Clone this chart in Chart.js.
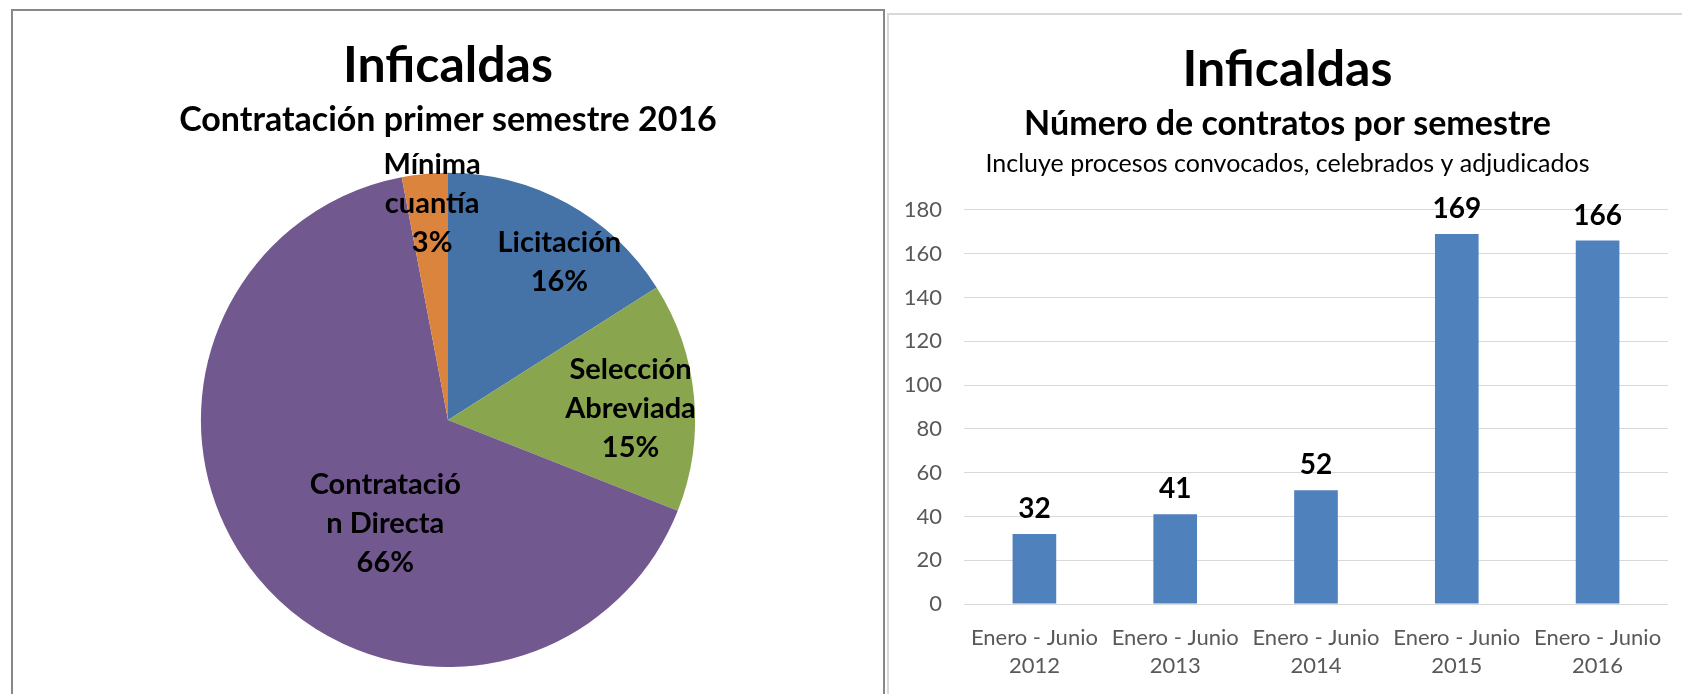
<!DOCTYPE html>
<html lang="es">
<head>
<meta charset="utf-8">
<title>Inficaldas</title>
<script src="https://cdn.jsdelivr.net/npm/chart.js@4.4.1/dist/chart.umd.min.js"></script>
<style>
  html, body { margin: 0; padding: 0; background: #fff; overflow: hidden; }
  body { width: 1682px; height: 694px; position: relative; font-family: Lato, sans-serif; }
  .panel { position: absolute; box-sizing: border-box; }
  #panel-pie { left: 11px; top: 9px; width: 874px; height: 700px; border: 2px solid #888; border-bottom: none; }
  #panel-bar { left: 887px; top: 13px; width: 820px; height: 700px; border: 2px solid #d9d9d9; border-bottom: none; border-right: none; }
  canvas { position: absolute; left: 0; top: 0; }
</style>
</head>
<body>
<div class="panel" id="panel-pie"><canvas id="pie" width="870" height="683"></canvas></div>
<div class="panel" id="panel-bar"><canvas id="barras" width="793" height="685"></canvas></div>
<script>
// --- datos torta: contratación primer semestre 2016 (%)
const tiposContrato = ['Licitación', 'Selección Abreviada', 'Contratación Directa', 'Mínima cuantía'];
const porcentajes = [16, 15, 66, 3];
// el texto de la etiqueta sale partido asi en la imagen
const nombresPie = [['Licitación'], ['Selección', 'Abreviada'], ['Contratació', 'n Directa'], ['Mínima', 'cuantía']];
const coloresPie = ['#4572A7', '#89A54E', '#71588F', '#DB843D'];

// --- datos barras: número de contratos por semestre
const periodos = [['Enero - Junio', '2012'], ['Enero - Junio', '2013'], ['Enero - Junio', '2014'], ['Enero - Junio', '2015'], ['Enero - Junio', '2016']];
const contratos = [32, 41, 52, 169, 166];
const ejeMax = 180;
const ejePaso = 20;

// ubicación de las etiquetas dentro de la torta (fracción del radio y giro en grados)
const radioEtiqueta = [0.78, 0.74, 0.49, 0.876];
const giroEtiqueta = [6.5, 1.9, -19.2, 1.2];

Chart.defaults.font.family = 'Lato, sans-serif';

const etiquetasPie = {
    id: 'etiquetasPie',
    afterDatasetsDraw(chart) {
        const ctx = chart.ctx;
        const meta = chart.getDatasetMeta(0);
        const total = porcentajes.reduce((a, b) => a + b, 0);
        ctx.save();
        ctx.fillStyle = '#000';
        ctx.font = 'bold 29px Lato, sans-serif';
        ctx.textAlign = 'center';
        ctx.textBaseline = 'middle';
        meta.data.forEach((arc, i) => {
            const p = arc.getProps(['x', 'y', 'startAngle', 'endAngle', 'outerRadius'], true);
            const ang = (p.startAngle + p.endAngle) / 2 + giroEtiqueta[i] * Math.PI / 180;
            const r = p.outerRadius * radioEtiqueta[i];
            const cx = p.x + Math.cos(ang) * r;
            const cy = p.y + Math.sin(ang) * r;
            const lineas = nombresPie[i].concat(Math.round(porcentajes[i] / total * 100) + '%');
            lineas.forEach((t, j) => {
                ctx.fillText(t, cx, cy + (j - (lineas.length - 1) / 2) * 39);
            });
        });
        ctx.restore();
    }
};

new Chart(document.getElementById('pie'), {
    type: 'pie',
    data: {
        labels: tiposContrato,
        datasets: [{ data: porcentajes, backgroundColor: coloresPie, borderWidth: 0 }]
    },
    options: {
        responsive: false,
        animation: false,
        layout: { padding: { bottom: 27 } },
        plugins: {
            legend: { display: false },
            tooltip: { enabled: false },
            title: {
                display: true, text: 'Inficaldas', color: '#000',
                font: { size: 50, weight: 'bold' }, padding: { top: 25, bottom: 4 }
            },
            subtitle: {
                display: true, text: 'Contratación primer semestre 2016', color: '#000',
                font: { size: 34, weight: 'bold' }, padding: { top: 0, bottom: 32 }
            }
        }
    },
    plugins: [etiquetasPie]
});

// valores encima de cada barra + la nota bajo el subtítulo
const valoresBarras = {
    id: 'valoresBarras',
    afterDatasetsDraw(chart) {
        const ctx = chart.ctx;
        ctx.save();
        ctx.fillStyle = '#000';
        ctx.font = 'bold 28px Lato, sans-serif';
        ctx.textAlign = 'center';
        ctx.textBaseline = 'middle';
        chart.getDatasetMeta(0).data.forEach((bar, i) => {
            ctx.fillText(String(contratos[i]), bar.x, bar.y - 25);
        });
        ctx.restore();
    }
};

const notaTitulo = {
    id: 'notaTitulo',
    afterDraw(chart) {
        const ctx = chart.ctx;
        const tb = chart.titleBlock;
        ctx.save();
        ctx.fillStyle = '#000';
        ctx.font = '25px Lato, sans-serif';
        ctx.textAlign = 'center';
        ctx.textBaseline = 'middle';
        ctx.fillText('Incluye procesos convocados, celebrados y adjudicados', (tb.left + tb.right) / 2, chart.chartArea.top - 46);
        ctx.restore();
    }
};

new Chart(document.getElementById('barras'), {
    type: 'bar',
    data: {
        labels: periodos,
        datasets: [{
            data: contratos,
            backgroundColor: '#4F81BD',
            categoryPercentage: 1,
            barPercentage: 0.31
        }]
    },
    options: {
        responsive: false,
        animation: false,
        layout: { autoPadding: false, padding: { left: 13, right: 9, bottom: 0 } },
        scales: {
            x: {
                grid: { display: false, drawTicks: false },
                border: { display: false },
                ticks: { color: '#595959', font: { size: 22, lineHeight: 1.27 }, padding: 20, maxRotation: 0, autoSkip: false }
            },
            y: {
                min: 0,
                max: ejeMax,
                grid: { color: '#d9d9d9', drawTicks: false },
                border: { display: false },
                ticks: { stepSize: ejePaso, color: '#595959', font: { size: 22 }, padding: 22 },
                afterFit(scale) { scale.width = 62; }
            }
        },
        plugins: {
            legend: { display: false },
            tooltip: { enabled: false },
            title: {
                display: true, text: 'Inficaldas', color: '#000',
                font: { size: 50, weight: 'bold' }, padding: { top: 25, bottom: 4 }
            },
            subtitle: {
                display: true, text: 'Número de contratos por semestre', color: '#000',
                font: { size: 34, weight: 'bold' }, padding: { top: 0, bottom: 65 }
            }
        }
    },
    plugins: [valoresBarras, notaTitulo]
});
</script>
</body>
</html>
